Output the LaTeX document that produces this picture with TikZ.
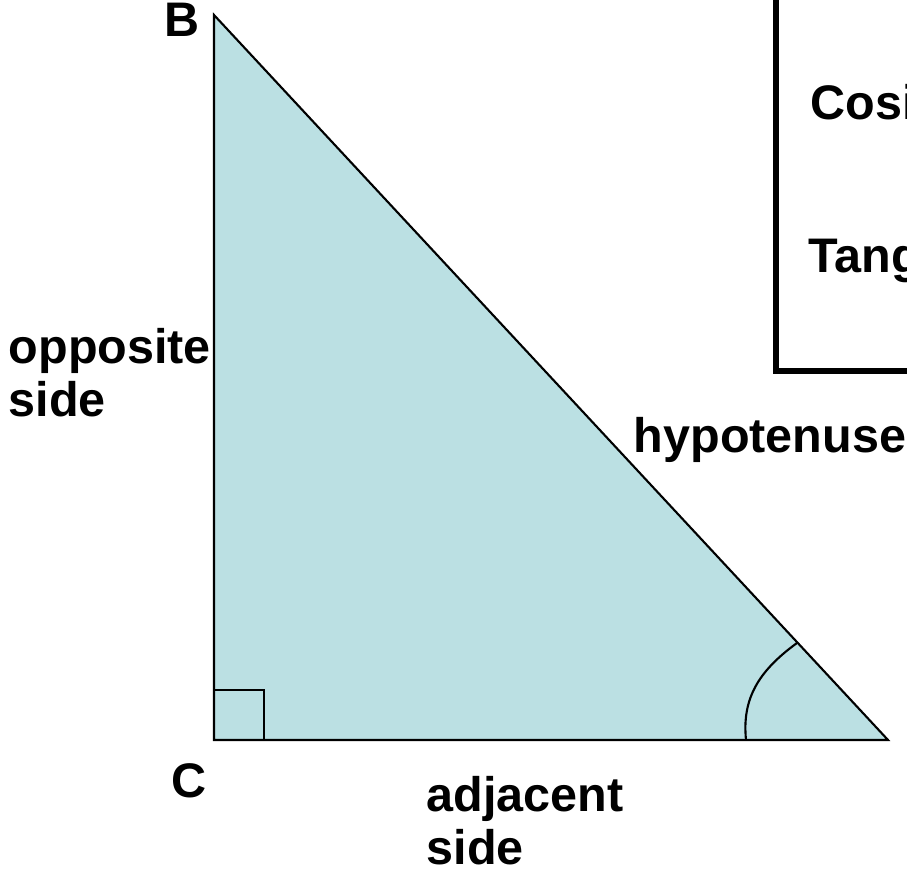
\documentclass[tikz,border=0pt]{standalone}
\usepackage{fontspec}
\setmainfont{Liberation Sans}
\definecolor{trifill}{RGB}{187,224,227}
\begin{document}
\begin{tikzpicture}[x=0.01cm,y=-0.01cm,
  lbl/.style={font=\fontsize{13.8}{15.1}\selectfont\bfseries, inner sep=0pt, align=left},
  edge/.style={line width=0.6pt, line join=miter}]
\useasboundingbox (0,0) rectangle (907,871);
\clip (0,0) rectangle (907,871);
\coordinate (B) at (214,15);
\coordinate (C) at (214,740);
\coordinate (A) at (888,740);
\fill[trifill] (B) -- (C) -- (A) -- cycle;
\draw[edge] (B) -- (C) -- (A) -- cycle;
\draw[edge] (214,690) -- (264,690) -- (264,740);
\coordinate (arcS) at (746,740);
\coordinate (arcE) at (797,643);
\draw[edge] (arcS) .. controls (742,700) and (757,672) .. (arcE);
% box
\draw[line width=1.7pt] (776,-20) -- (776,371) -- (930,371);
% labels
\node[lbl, anchor=base west] (lB) at (164,37) {B};
\node[lbl, anchor=base west] (lC) at (171,797) {C};
\node[lbl, anchor=north west] (lopp) at (8,328) {opposite\\side};
\node[lbl, anchor=north west] (ladj) at (426,776) {adjacent\\side};
\node[lbl, anchor=base west] (lhyp) at (633,453) {hypotenuse};
\node[lbl, anchor=base west] (lcos) at (810,120) {Cosi};
\node[lbl, anchor=base west] (ltan) at (808,273) {Tang};
\end{tikzpicture}
\end{document}
